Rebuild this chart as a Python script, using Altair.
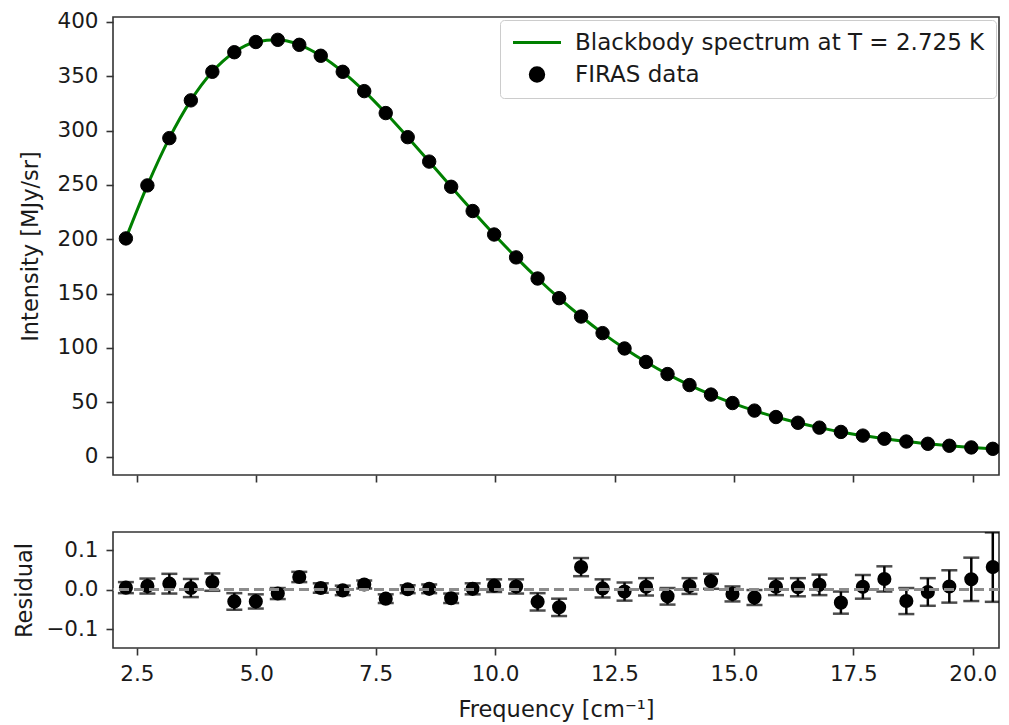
import altair as alt
import pandas as pd

# FIRAS data
freq = [2.27, 2.72, 3.18, 3.63, 4.08, 4.54, 4.99, 5.45, 5.90, 6.35, 6.81, 7.26,
        7.71, 8.17, 8.62, 9.08, 9.53, 9.98, 10.44, 10.89, 11.34, 11.80, 12.25,
        12.71, 13.16, 13.61, 14.07, 14.52, 14.97, 15.43, 15.88, 16.34, 16.79,
        17.24, 17.70, 18.15, 18.61, 19.06, 19.51, 19.97, 20.42, 20.87, 21.33]
intensity = [200.72, 249.51, 293.02, 327.77, 354.08, 372.08, 381.49, 383.48,
             378.90, 368.83, 354.06, 336.28, 316.08, 293.92, 271.43, 248.24,
             225.94, 204.33, 183.26, 163.83, 145.75, 128.84, 113.57, 99.45,
             87.04, 75.88, 65.77, 57.01, 49.22, 42.27, 36.35, 31.06, 26.58,
             22.64, 19.26, 16.39, 13.81, 11.72, 9.92, 8.36, 7.09, 5.80, 4.52]
# residuals and 1-sigma uncertainties (MJy/sr) for the visible points
res_freq = freq[:41]
residual = [0.005, 0.009, 0.015, 0.004, 0.019, -0.030, -0.030, -0.010, 0.032,
            0.004, -0.002, 0.013, -0.023, 0.001, 0.002, -0.022, 0.002, 0.010,
            0.008, -0.031, -0.045, 0.057, 0.003, -0.005, 0.007, -0.017, 0.009,
            0.021, -0.011, -0.020, 0.007, 0.006, 0.012, -0.033, 0.007, 0.027,
            -0.029, -0.006, 0.008, 0.026, 0.057]
uncertainty = [0.014, 0.019, 0.025, 0.023, 0.022, 0.021, 0.018, 0.014, 0.013,
               0.012, 0.012, 0.010, 0.011, 0.010, 0.011, 0.012, 0.014, 0.016,
               0.018, 0.022, 0.022, 0.023, 0.023, 0.023, 0.022, 0.021, 0.020,
               0.019, 0.019, 0.019, 0.021, 0.023, 0.026, 0.028, 0.030, 0.032,
               0.033, 0.035, 0.041, 0.055, 0.088]

series_names = ["Blackbody spectrum at T = 2.725 K", "FIRAS data"]
x_ticks = [2.5, 5.0, 7.5, 10.0, 12.5, 15.0, 17.5, 20.0]
y_ticks_top = [0, 50, 100, 150, 200, 250, 300, 350, 400]
y_ticks_res = [-0.1, 0.0, 0.1]

FONT = "DejaVu Sans"
TXT = "#1a1a1a"
X_DOMAIN = [2.0, 20.55]
W = 886

curve_df = pd.DataFrame({"freq": freq, "intensity": intensity,
                         "series": series_names[0]})
data_df = pd.DataFrame({"freq": freq, "intensity": intensity,
                        "series": series_names[1]})
res_df = pd.DataFrame({"freq": res_freq, "residual": residual,
                       "err": uncertainty})
res_df["lo"] = res_df["residual"] - res_df["err"]
res_df["hi"] = res_df["residual"] + res_df["err"]

legend = alt.Legend(title=None, orient="top-right", offset=3,
                    labelFont=FONT, labelFontSize=23, labelColor=TXT,
                    labelLimit=800, clipHeight=22,
                    strokeColor="#cccccc", fillColor="white", padding=11.5,
                    cornerRadius=4, symbolStrokeWidth=3, labelOffset=12.5,
                    rowPadding=9)

stroke_scale = alt.Scale(domain=series_names, range=["#008000", "black"])
fill_scale = alt.Scale(domain=series_names, range=["#008000", "black"])
shape_scale = alt.Scale(domain=series_names, range=["stroke", "circle"])
size_scale = alt.Scale(type="ordinal", domain=series_names, range=[2304, 180])

x_top = alt.X("freq:Q", scale=alt.Scale(domain=X_DOMAIN, nice=False, zero=False),
              axis=alt.Axis(values=x_ticks, labels=False, title=None))
y_top = alt.Y("intensity:Q", scale=alt.Scale(domain=[-17, 404.5], nice=False, zero=False),
              axis=alt.Axis(values=y_ticks_top, title="Intensity [MJy/sr]",
                            titlePadding=14))

line = alt.Chart(curve_df).mark_line(strokeWidth=3, interpolate="monotone", clip=True).encode(
    x=x_top, y=y_top,
    stroke=alt.Stroke("series:N", scale=stroke_scale, legend=legend),
)
points = alt.Chart(data_df).mark_point(filled=True, clip=True, opacity=1, strokeWidth=1).encode(
    x=x_top, y=y_top,
    stroke=alt.Stroke("series:N", scale=stroke_scale, legend=legend),
    fill=alt.Fill("series:N", scale=fill_scale, legend=legend),
    shape=alt.Shape("series:N", scale=shape_scale, legend=legend),
    size=alt.Size("series:N", scale=size_scale, legend=legend),
)
top = alt.layer(line, points).properties(width=W, height=458)

x_res = alt.X("freq:Q", scale=alt.Scale(domain=X_DOMAIN, nice=False, zero=False),
              axis=alt.Axis(values=x_ticks, format=".1f", title="Frequency [cm⁻¹]",
                            titlePadding=14))
y_scale_res = alt.Scale(domain=[-0.148, 0.146], nice=False, zero=False)

zero = alt.Chart(res_df).mark_rule(color="#8c8c8c", strokeDash=[10, 5], strokeWidth=1.8).encode(
    y=alt.datum(0, scale=y_scale_res)
)
bars = alt.Chart(res_df).mark_rule(color="black", strokeWidth=2.5, clip=True).encode(
    x=x_res,
    y=alt.Y("lo:Q", scale=y_scale_res,
            axis=alt.Axis(values=y_ticks_res, format=".1f", title="Residual",
                          titlePadding=9)),
    y2="hi:Q",
)
cap_lo = alt.Chart(res_df).mark_tick(orient="horizontal", size=16, thickness=2.5,
                                     color="black", clip=True).encode(
    x=x_res, y=alt.Y("lo:Q", scale=y_scale_res)
)
cap_hi = alt.Chart(res_df).mark_tick(orient="horizontal", size=16, thickness=2.5,
                                     color="black", clip=True).encode(
    x=x_res, y=alt.Y("hi:Q", scale=y_scale_res)
)
res_pts = alt.Chart(res_df).mark_circle(size=200, color="black", opacity=1, clip=True).encode(
    x=x_res, y=alt.Y("residual:Q", scale=y_scale_res)
)
bottom = alt.layer(bars, cap_lo, cap_hi, res_pts, zero).properties(width=W, height=116)

chart = alt.vconcat(top, bottom, spacing=47).properties(
    padding={"left": 4, "top": 2, "right": 0, "bottom": 0}
).configure_axis(
    labelFont=FONT, labelFontSize=21.5, labelColor=TXT, labelPadding=8,
    titleFont=FONT, titleFontSize=22.5, titleFontWeight="normal", titleColor=TXT,
    tickColor="#333333", tickWidth=1.6, tickSize=7,
    domain=False, grid=False,
).configure_view(
    stroke="#333333", strokeWidth=1.6
)

chart.save("out.html", embed_options={"renderer": "svg", "actions": False})
